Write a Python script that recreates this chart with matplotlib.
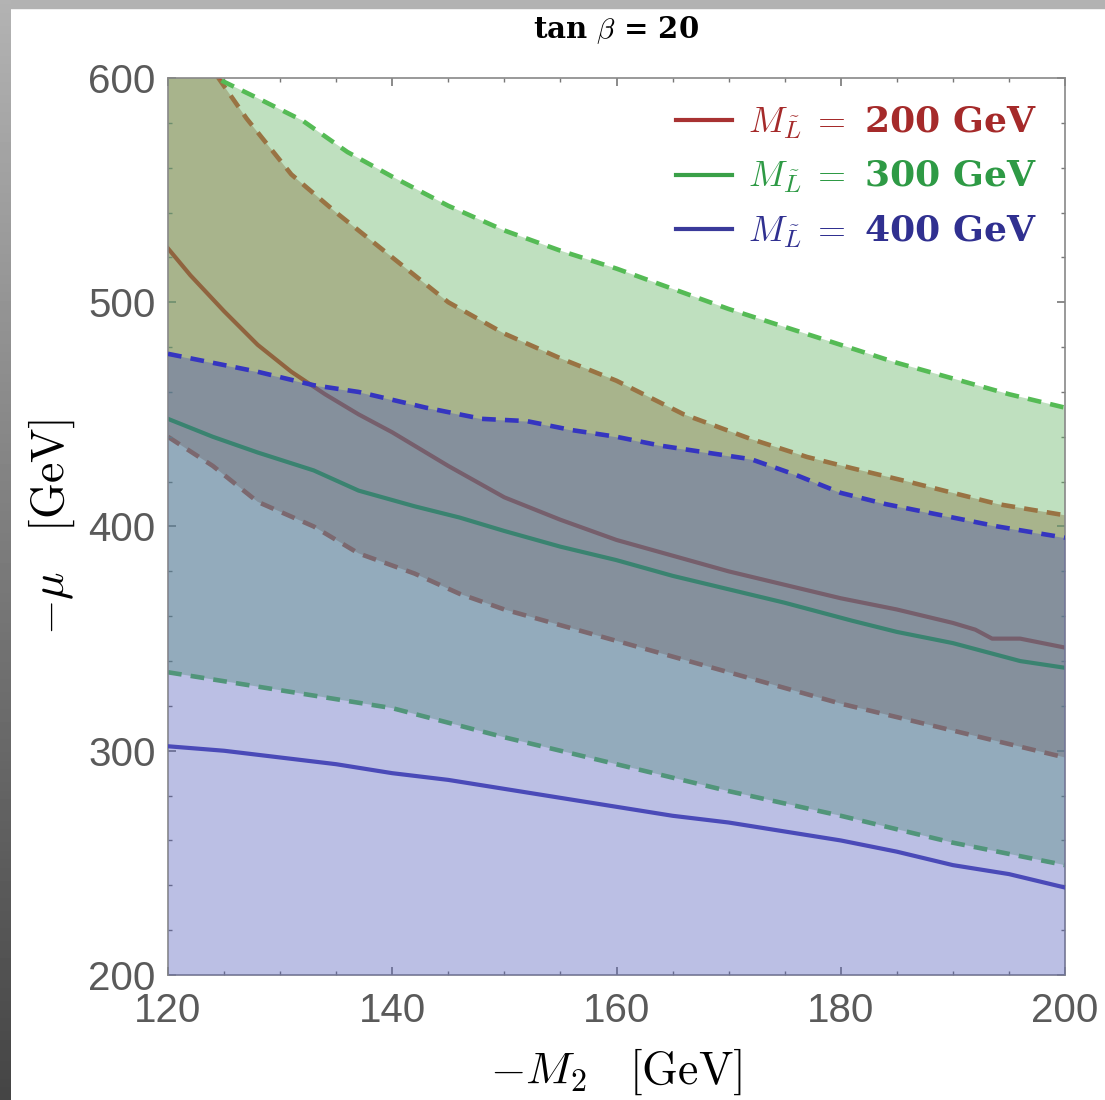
import matplotlib.pyplot as plt
import numpy as np
from matplotlib.ticker import MultipleLocator

plt.rcParams['mathtext.fontset'] = 'cm'

# M_L = 200 GeV band (central line, upper and lower dashed edges)
red_mid_x = [120, 122, 125, 128, 131, 134, 137, 140, 145, 150, 155, 160, 165, 170, 175, 180, 185, 190, 192, 193.5, 196, 200]
red_mid_y = [524, 512, 496, 481, 469, 459, 450, 442, 427, 413, 403, 394, 387, 380, 374, 368, 363, 357, 354, 350, 350, 346]
red_hi_x = [120, 124.5, 127, 131, 135, 140, 145, 150, 155, 160, 166, 172, 177, 181, 186, 190, 194, 200]
red_hi_y = [636, 600, 582, 557, 540, 520, 500, 486, 475, 465, 450, 439, 431, 426, 420, 415, 410, 405]
red_lo_x = [120, 124, 128, 133, 137, 142, 146, 150, 155, 160, 165, 170, 175, 180, 185, 190, 195, 200]
red_lo_y = [440, 427, 411, 400, 388, 379, 370, 363, 356, 349, 342, 335, 328, 321, 315, 309, 303, 297]

# M_L = 300 GeV band
green_mid_x = [120, 124, 128, 133, 137, 142, 146, 150, 155, 160, 165, 170, 175, 181, 185, 190, 196, 200]
green_mid_y = [448, 440, 433, 425, 416, 409, 404, 398, 391, 385, 378, 372, 366, 358, 353, 348, 340, 337]
green_hi_x = [120, 124.3, 128, 132, 136, 140, 145, 150, 155, 160, 165, 170, 175, 180, 185, 190, 195, 200]
green_hi_y = [618, 600, 591, 581, 567, 556, 543, 532, 523, 515, 506, 497, 489, 481, 473, 466, 459, 453]
green_lo_x = [120, 130, 140, 150, 160, 170, 180, 190, 200]
green_lo_y = [335, 327, 319, 306, 294, 282, 271, 259, 249]

# M_L = 400 GeV band (lower edge is below the plot range)
blue_mid_x = [120, 125, 130, 135, 140, 145, 150, 155, 160, 165, 170, 175, 180, 185, 190, 195, 200]
blue_mid_y = [302, 300, 297, 294, 290, 287, 283, 279, 275, 271, 268, 264, 260, 255, 249, 245, 239]
blue_hi_x = [120, 123, 128, 133, 137, 143, 148, 152, 156, 160, 164, 168, 172, 176, 180, 184, 188, 194, 200]
blue_hi_y = [477, 474, 469, 463, 460, 453, 448, 447, 443, 440, 436, 433, 430, 423, 415, 410, 406, 400, 395]

labels = [r'$M_{\tilde{L}}\;=$ 200 GeV',
          r'$M_{\tilde{L}}\;=$ 300 GeV',
          r'$M_{\tilde{L}}\;=$ 400 GeV']

XMIN, XMAX, YMIN, YMAX = 120, 200, 200, 600

fig = plt.figure(figsize=(11.05, 11.0), dpi=100)

# grey screenshot edges
fig.add_artist(plt.Rectangle((0, 1 - 8 / 1100), 1, 8 / 1100, transform=fig.transFigure,
                             color='#b2b2b2', zorder=0))
edge = fig.add_axes([0, 0, 10 / 1105, 1])
edge.imshow(np.linspace(0.70, 0.27, 256)[:, None], cmap='gray', vmin=0, vmax=1, aspect='auto')
edge.axis('off')

ax = fig.add_axes([168 / 1105, 1 - 975 / 1100, 897 / 1105, 897 / 1100])

lw = 3.0
dlw = 3.3
# red band
ax.fill(np.r_[red_hi_x, red_lo_x[::-1]], np.r_[red_hi_y, red_lo_y[::-1]],
        color=(0.625, 0.29, 0.17), alpha=0.4, lw=0, zorder=1)
ax.plot(red_hi_x, red_hi_y, color='#c04a30', lw=dlw, dashes=(3, 2), zorder=1.1)
ax.plot(red_lo_x, red_lo_y, color='#c04a30', lw=dlw, dashes=(3, 2), zorder=1.1)
ax.plot(red_mid_x, red_mid_y, color='#b0302a', lw=lw, zorder=1.1)

# green band
ax.fill(np.r_[green_hi_x, green_lo_x[::-1]], np.r_[green_hi_y, green_lo_y[::-1]],
        color=(0.375, 0.70, 0.375), alpha=0.4, lw=0, zorder=2)
ax.plot(green_hi_x, green_hi_y, color='#55bb55', lw=dlw, dashes=(3, 2), zorder=2.1)
ax.plot(green_lo_x, green_lo_y, color='#55bb55', lw=dlw, dashes=(3, 2), zorder=2.1)
ax.plot(green_mid_x, green_mid_y, color='#2f9f45', lw=lw, zorder=2.1)

# blue band
ax.fill_between(blue_hi_x, blue_hi_y, YMIN, color=(0.30, 0.34, 0.72), alpha=0.38, lw=0, zorder=3)
ax.plot(blue_hi_x, blue_hi_y, color='#3535c0', lw=dlw, dashes=(3, 2), zorder=3.1)
ax.plot(blue_mid_x, blue_mid_y, color='#4a4ab8', lw=lw, zorder=3.1)

ax.set_xlim(XMIN, XMAX)
ax.set_ylim(YMIN, YMAX)

ax.xaxis.set_major_locator(MultipleLocator(20))
ax.xaxis.set_minor_locator(MultipleLocator(5))
ax.yaxis.set_major_locator(MultipleLocator(100))
ax.yaxis.set_minor_locator(MultipleLocator(20))
ax.tick_params(which='both', direction='in', top=True, right=True, color='#777777')
ax.tick_params(which='major', length=6, width=1.2)
ax.tick_params(which='minor', length=3, width=1.0)
ax.tick_params(axis='x', which='major', labelsize=29, labelcolor='#5a5a5a', pad=12)
ax.tick_params(axis='y', which='major', labelsize=29, labelcolor='#5a5a5a', pad=9)
for t in ax.get_xticklabels() + ax.get_yticklabels():
    t.set_fontfamily('Liberation Sans')
for s in ax.spines.values():
    s.set_color('#888888')
    s.set_linewidth(1.2)

ax.set_xlabel(r'$-M_2\quad[\mathrm{GeV}]$', fontsize=33, labelpad=12)
ax.set_ylabel(r'$-\mu\quad[\mathrm{GeV}]$', fontsize=33, labelpad=8)
fig.text(616 / 1105, 1 - 30 / 1100, r'tan $\beta$ = 20', family='DejaVu Serif',
         weight='bold', fontsize=21, ha='center', va='center')

h1, = ax.plot([], [], color='#a83232', lw=lw)
h2, = ax.plot([], [], color='#3aa048', lw=lw)
h3, = ax.plot([], [], color='#3a3a9a', lw=lw)
leg = ax.legend([h1, h2, h3], labels, loc='upper right', bbox_to_anchor=(0.985, 0.986),
                borderaxespad=0, frameon=False, handlelength=1.55, handletextpad=0.45,
                labelspacing=0.5, prop={'family': 'DejaVu Serif', 'weight': 'bold', 'size': 26})
for txt, c in zip(leg.get_texts(), ['#a52a2a', '#2e9a45', '#303090']):
    txt.set_color(c)

fig.savefig('out.png', dpi=100)
